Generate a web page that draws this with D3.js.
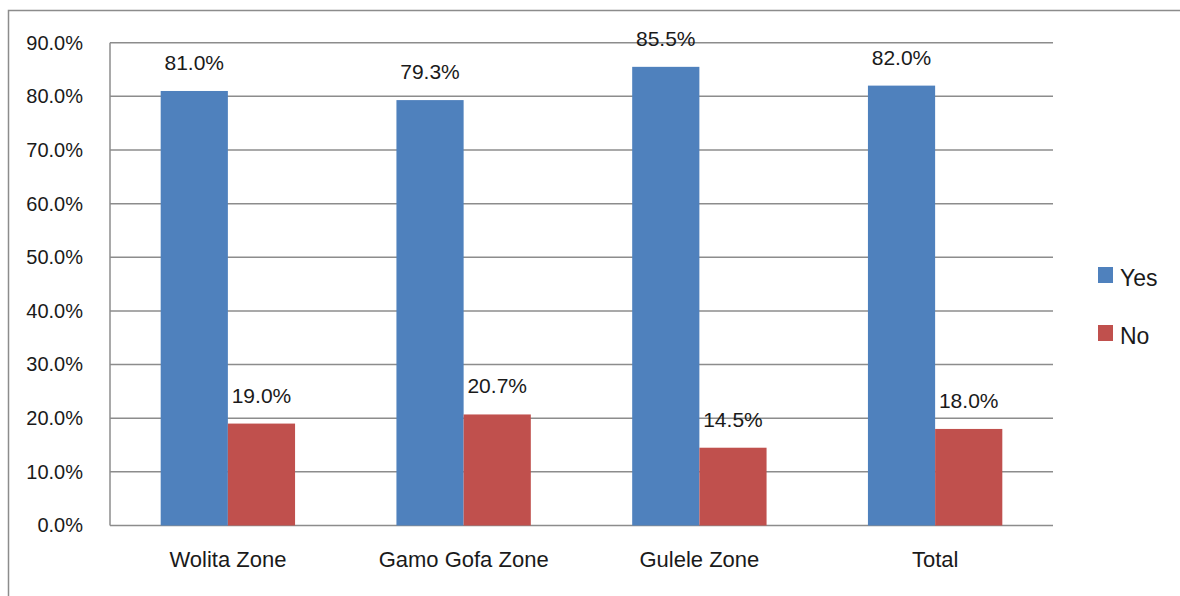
<!DOCTYPE html>
<html>
<head>
<meta charset="utf-8">
<script src="https://cdn.jsdelivr.net/npm/d3@7"></script>
<style>
  html, body { margin: 0; padding: 0; background: #fff; }
  svg { display: block; font-family: "Liberation Sans", Arial, sans-serif; }
</style>
</head>
<body>
<svg id="chart" width="1180" height="596"></svg>
<script>
// Share of respondents answering Yes / No by zone
const categories = ["Wolita Zone", "Gamo Gofa Zone", "Gulele Zone", "Total"];
const seriesNames = ["Yes", "No"];
const yesValues = [81.0, 79.3, 85.5, 82.0];
const noValues = [19.0, 20.7, 14.5, 18.0];
const yTicks = [0, 10, 20, 30, 40, 50, 60, 70, 80, 90];
const colors = ["#4F81BD", "#C0504D"];

const seriesValues = [yesValues, noValues];
const rows = categories.map((c, i) => ({
  category: c,
  values: seriesNames.map((s, j) => ({ series: s, value: seriesValues[j][i], color: colors[j] }))
}));

const svg = d3.select("#chart");
const W = 1180, H = 596;

// Outer frame of the chart
svg.append("rect")
  .attr("x", 8.5).attr("y", 10.5)
  .attr("width", W + 10).attr("height", H + 10)
  .attr("fill", "none").attr("stroke", "#8c8c8c").attr("stroke-width", 1.5);

const plot = { left: 110, right: 1053, top: 42.7, bottom: 525.5 };

const y = d3.scaleLinear().domain([0, 90]).range([plot.bottom, plot.top]);
const x0 = d3.scaleBand().domain(categories).range([plot.left, plot.right]).padding(0);
const groupPad = 0.215;
const x1 = d3.scaleBand().domain(seriesNames)
  .range([x0.bandwidth() * groupPad, x0.bandwidth() * (1 - groupPad)]).padding(0);

// Horizontal gridlines
svg.append("g").selectAll("line").data(yTicks).join("line")
  .attr("x1", plot.left).attr("x2", plot.right)
  .attr("y1", d => y(d)).attr("y2", d => y(d))
  .attr("stroke", "#8c8c8c").attr("stroke-width", 1.5);

// Y axis line and tick labels
svg.append("line")
  .attr("x1", plot.left).attr("x2", plot.left)
  .attr("y1", plot.top).attr("y2", plot.bottom)
  .attr("stroke", "#8c8c8c").attr("stroke-width", 1.5);

const yAxis = d3.axisLeft(y).tickValues(yTicks).tickSize(0).tickPadding(27)
  .tickFormat(d => d3.format(".1f")(d) + "%");
const yg = svg.append("g").attr("transform", `translate(${plot.left},0)`).call(yAxis);
yg.select(".domain").remove();
yg.selectAll("text").attr("font-size", 20).attr("fill", "#1a1a1a")
  .attr("font-family", "'Liberation Sans', Arial, sans-serif");

// Bars
const groups = svg.append("g").selectAll("g").data(rows).join("g")
  .attr("transform", d => `translate(${x0(d.category)},0)`);

groups.selectAll("rect").data(d => d.values).join("rect")
  .attr("x", d => x1(d.series))
  .attr("y", d => y(d.value))
  .attr("width", x1.bandwidth())
  .attr("height", d => y(0) - y(d.value))
  .attr("fill", d => d.color);

// Value labels above bars
groups.selectAll("text").data(d => d.values).join("text")
  .attr("x", d => x1(d.series) + x1.bandwidth() / 2)
  .attr("y", d => y(d.value) - 21)
  .attr("text-anchor", "middle")
  .attr("font-size", 21)
  .attr("fill", "#1a1a1a")
  .text(d => d3.format(".1f")(d.value) + "%");

// Category labels
const xAxis = d3.axisBottom(x0).tickSize(0).tickPadding(26);
const xg = svg.append("g").attr("transform", `translate(0,${plot.bottom})`).call(xAxis);
xg.select(".domain").remove();
xg.selectAll("text").attr("font-size", 22).attr("fill", "#1a1a1a")
  .attr("font-family", "'Liberation Sans', Arial, sans-serif");

// Legend
const legend = svg.append("g").selectAll("g").data(seriesNames).join("g")
  .attr("transform", (d, i) => `translate(1098,${267 + i * 58})`);
legend.append("rect")
  .attr("width", 15).attr("height", 16)
  .attr("fill", (d, i) => colors[i]);
legend.append("text")
  .attr("x", 22).attr("y", 19)
  .attr("font-size", 23)
  .attr("fill", "#1a1a1a")
  .text(d => d);
</script>
</body>
</html>
